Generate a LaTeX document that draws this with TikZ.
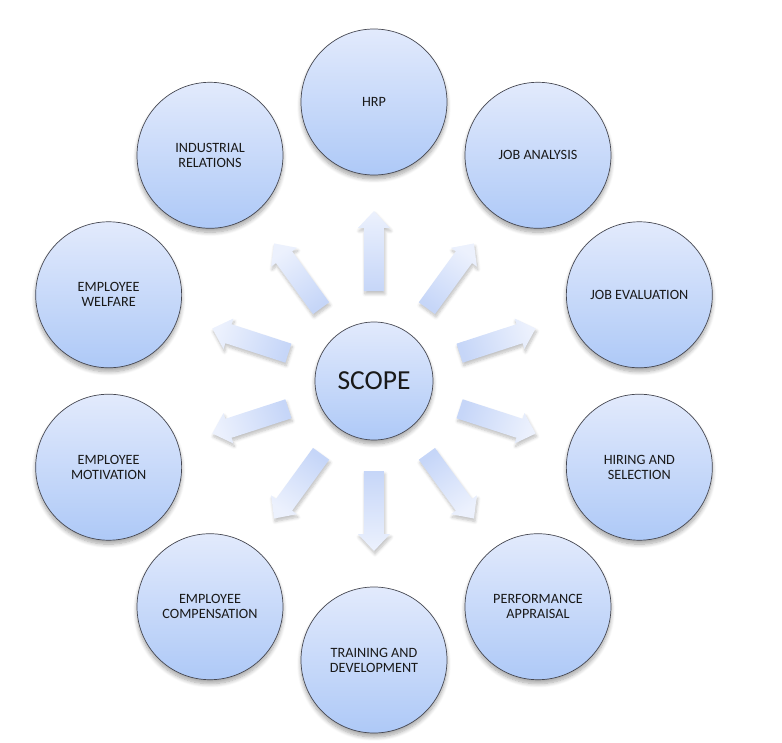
\documentclass[tikz,border=0pt]{standalone}
\usepackage{fontspec}
\setmainfont{Carlito}
\usetikzlibrary{shadows.blur}
\definecolor{ctop}{RGB}{226,234,252}
\definecolor{cbot}{RGB}{174,201,247}
\definecolor{atip}{RGB}{236,241,253}
\definecolor{atail}{RGB}{198,214,248}
\definecolor{edge}{RGB}{70,72,82}
\begin{document}
\begin{tikzpicture}[x=1pt,y=1pt,
  softshadow/.style={blur shadow={shadow xshift=0pt, shadow yshift=-4pt, shadow opacity=35, shadow blur steps=8, shadow blur radius=4pt}},
  topic/.style={circle, minimum size=146pt, inner sep=0pt, draw=edge, line width=0.7pt,
    top color=ctop, bottom color=cbot, softshadow, align=center,
    font=\fontsize{14.2}{15}\selectfont, text=black!90},
  hub/.style={topic, minimum size=118pt, font=\fontsize{27.5}{30}\selectfont},
  blockarrow/.style={top color=atip, bottom color=atail, draw=none,
    blur shadow={shadow xshift=1pt, shadow yshift=-3pt, shadow opacity=25, shadow blur steps=6, shadow blur radius=3pt}}]
\useasboundingbox (-374,-361) rectangle (408,381);
% arrows
\foreach \a in {90,54,18,-18,-54,-90,-126,-162,162,126}{
  \begin{scope}[rotate=\a]
    \path[blockarrow, shading angle=\a-90] (90,-10) -- (153,-10) -- (153,-16) -- (170,0)
      -- (153,16) -- (153,10) -- (90,10) -- cycle;
  \end{scope}
}
\node[hub] (scope) at (0,0) {SCOPE};
\foreach \a/\n/\t in {90/hrp/{HRP}, 54/ja/{JOB ANALYSIS}, 18/je/{JOB EVALUATION},
  -18/hs/{HIRING AND\\SELECTION}, -54/pa/{PERFORMANCE\\APPRAISAL},
  -90/td/{TRAINING AND\\DEVELOPMENT}, -126/ec/{EMPLOYEE\\COMPENSATION},
  -162/em/{EMPLOYEE\\MOTIVATION}, 162/ew/{EMPLOYEE\\WELFARE},
  126/ir/{INDUSTRIAL\\RELATIONS}}
  \node[topic] (\n) at (\a:279) {\t};
\end{tikzpicture}
\end{document}
